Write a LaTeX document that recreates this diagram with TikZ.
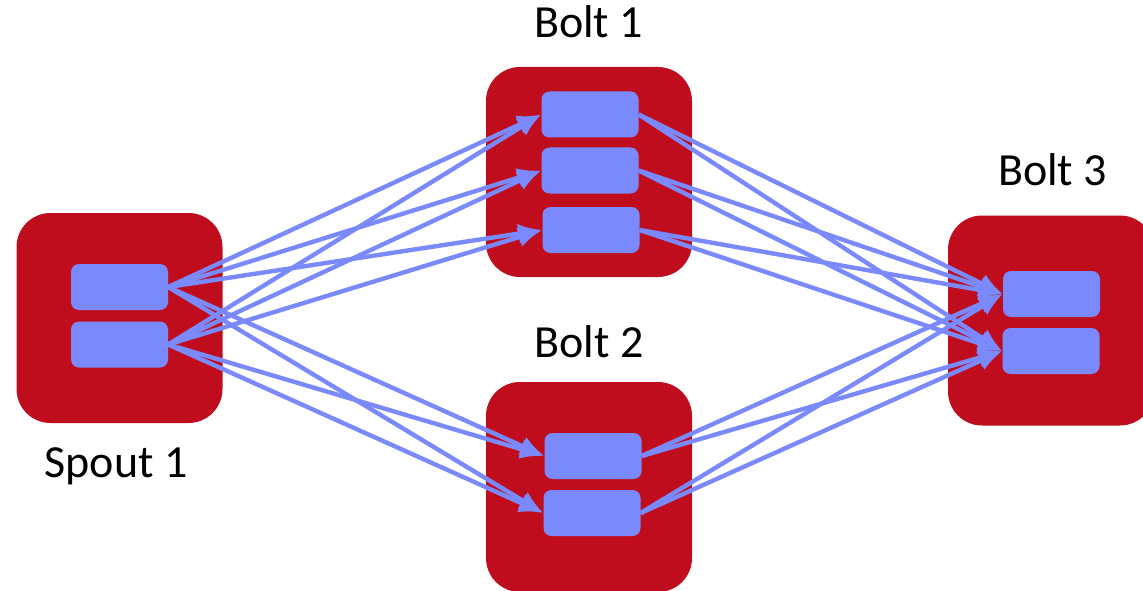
\documentclass[tikz,border=0pt]{standalone}
\usepackage{fontspec}
\setmainfont{Carlito}
\usetikzlibrary{arrows.meta}
\definecolor{boltred}{RGB}{192,13,30}
\definecolor{taskblue}{RGB}{122,138,252}
\begin{document}
\begin{tikzpicture}[x=1pt,y=-1pt,
  component/.style={fill=boltred,draw=none,rounded corners=34pt,minimum width=206pt,minimum height=210pt,inner sep=0pt},
  task/.style={fill=taskblue,draw=none,rounded corners=8pt,minimum width=97pt,minimum height=46pt,inner sep=0pt},
  caption/.style={anchor=base,font=\fontsize{46}{54}\selectfont,inner sep=0pt},
  flow/.style={draw=taskblue,line width=4.4pt,-{Latex[length=24pt,width=20pt]}}]
\useasboundingbox (0,0) rectangle (1143,591);

% executor containers
\node[component] (spout) at (119.5,318) {};
\node[component] (boltA) at (589,172) {};
\node[component] (boltB) at (589,487) {};
\node[component] (boltC) at (1051,320.5) {};

% component labels
\node[caption] (lspout) at (116,477) {Spout 1};
\node[caption] (lboltA) at (588.5,38) {Bolt 1};
\node[caption] (lboltB) at (589,357) {Bolt 2};
\node[caption] (lboltC) at (1052.5,185) {Bolt 3};

% tasks
\node[task] (s1) at (119.5,287) {};
\node[task] (s2) at (119.5,344.5) {};
\node[task] (a1) at (590,114.5) {};
\node[task] (a2) at (590,170.5) {};
\node[task] (a3) at (591,230) {};
\node[task] (b1) at (593,456) {};
\node[task] (b2) at (592,513) {};
\node[task] (c1) at (1051.5,294) {};
\node[task] (c2) at (1051,351) {};

% spout tasks feed every task of Bolt 1 and Bolt 2
\foreach \src in {s1,s2}
  \foreach \dst in {a1,a2,a3,b1,b2}
    \draw[flow] (\src.east) -- (\dst.west);

% Bolt 1 and Bolt 2 tasks feed every task of Bolt 3
\foreach \src in {a1,a2,a3,b1,b2}
  \foreach \dst in {c1,c2}
    \draw[flow] (\src.east) -- (\dst.west);
\end{tikzpicture}
\end{document}
